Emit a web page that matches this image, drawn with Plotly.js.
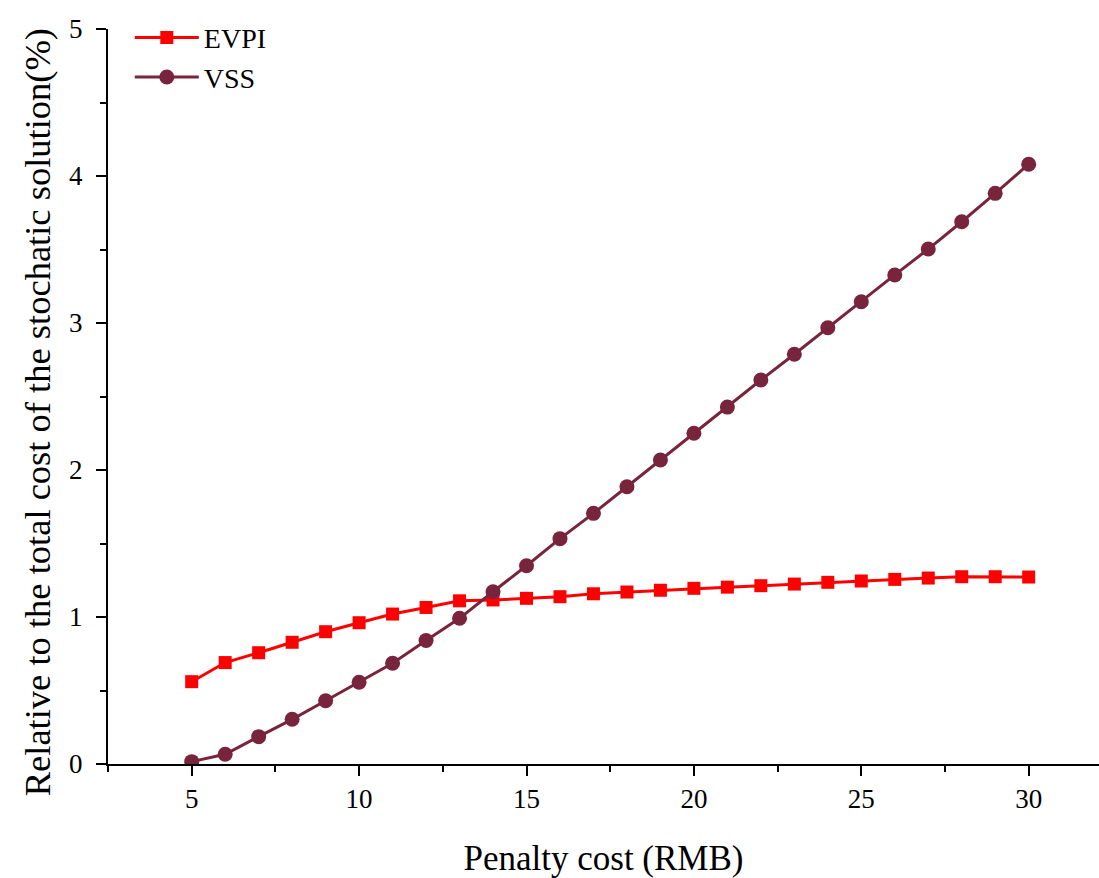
<!DOCTYPE html>
<html>
<head>
<meta charset="utf-8">
<script src="https://cdn.plot.ly/plotly-3.0.1.min.js"></script>
<style>html,body{margin:0;padding:0;background:#fff;}#chart{width:1099px;height:878px;}</style>
</head>
<body>
<div id="chart"></div>
<script>
const penaltyCost = [5,6,7,8,9,10,11,12,13,14,15,16,17,18,19,20,21,22,23,24,25,26,27,28,29,30];
const evpi = [0.56,0.69,0.757,0.828,0.90,0.961,1.02,1.065,1.11,1.116,1.127,1.138,1.158,1.17,1.182,1.195,1.203,1.213,1.224,1.236,1.245,1.256,1.265,1.274,1.274,1.272];
const vss = [0.016,0.066,0.186,0.304,0.43,0.556,0.685,0.84,0.991,1.172,1.349,1.533,1.705,1.886,2.068,2.25,2.428,2.612,2.787,2.968,3.145,3.327,3.503,3.689,3.882,4.08];
const seriesNames = ['EVPI','VSS'];
const xTitle = 'Penalty cost (RMB)';
const yTitle = 'Relative to the total cost of the stochatic solution(%)';

const FONT = 'Liberation Serif';
const traces = [
  {x: penaltyCost, y: evpi, name: seriesNames[0], type: 'scatter', mode: 'lines+markers',
   line: {color: '#FF0000', width: 3}, marker: {symbol: 'square', size: 13, color: '#FF0000'}},
  {x: penaltyCost, y: vss, name: seriesNames[1], type: 'scatter', mode: 'lines+markers',
   line: {color: '#78243C', width: 3}, marker: {symbol: 'circle', size: 15, color: '#78243C'}}
];
const layout = {
  width: 1099, height: 878,
  margin: {l: 108, r: 0, t: 29, b: 114},
  paper_bgcolor: '#ffffff', plot_bgcolor: '#ffffff',
  font: {family: FONT, color: '#000', size: 26},
  showlegend: true,
  legend: {x: 0.022, y: 1.022, xanchor: 'left', yanchor: 'top', bgcolor: 'rgba(0,0,0,0)',
    font: {family: FONT, size: 28, color: '#000'}, itemwidth: 64, tracegroupgap: 0},
  xaxis: {
    range: [2.5, 32.1], showgrid: false, zeroline: false,
    showline: true, linecolor: '#000', linewidth: 2,
    ticks: 'outside', tickcolor: '#000', tickwidth: 2, ticklen: 10,
    tick0: 0, dtick: 5,
    minor: {ticks: 'outside', dtick: 2.5, tick0: 0, ticklen: 6, tickcolor: '#000', tickwidth: 2, showgrid: false},
    tickfont: {family: FONT, size: 27, color: '#000'},
    title: {text: xTitle, font: {family: FONT, size: 35, color: '#000'}, standoff: 32}
  },
  yaxis: {
    range: [0, 5], showgrid: false, zeroline: false,
    showline: true, linecolor: '#000', linewidth: 2,
    ticks: 'outside', tickcolor: '#000', tickwidth: 2, ticklen: 10,
    tick0: 0, dtick: 1, ticklabelstandoff: 8,
    minor: {ticks: 'outside', dtick: 0.5, tick0: 0, ticklen: 6, tickcolor: '#000', tickwidth: 2, showgrid: false},
    tickfont: {family: FONT, size: 27, color: '#000'}
  },
  annotations: [{
    text: yTitle, textangle: -90, showarrow: false,
    xref: 'paper', yref: 'paper', x: -0.071, y: 0.478, xanchor: 'center', yanchor: 'middle',
    font: {family: FONT, size: 36.5, color: '#000'}
  }]
};
Plotly.newPlot('chart', traces, layout, {displayModeBar: false, staticPlot: true});
</script>
</body>
</html>
